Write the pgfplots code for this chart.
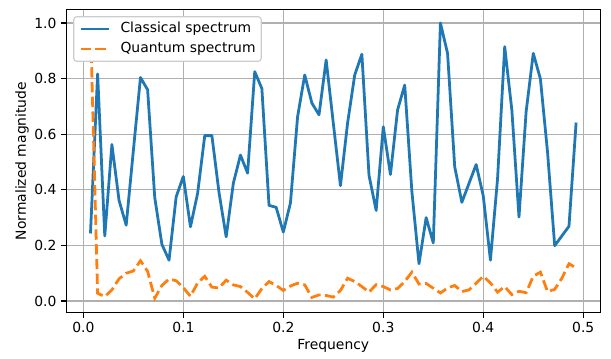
\documentclass[border=0pt]{standalone}
\usepackage{fontspec}
\setmainfont{DejaVu Sans}
\usepackage{pgfplots}
\usepackage{pgfplotstable}
\pgfplotsset{compat=1.18}
\definecolor{mplblue}{HTML}{1F77B4}
\definecolor{mplorange}{HTML}{FF7F0E}
\definecolor{mplgrid}{HTML}{B0B0B0}
\definecolor{mpllegend}{HTML}{CCCCCC}
\newcommand{\fs}{\fontsize{13.9}{16.7}\selectfont}

\pgfplotstableread{
k c q
1 0.243 1.0
2 0.817 0.028
3 0.234 0.016
4 0.563 0.040
5 0.362 0.080
6 0.273 0.100
7 0.540 0.108
8 0.804 0.145
9 0.760 0.107
10 0.372 0.010
11 0.204 0.056
12 0.147 0.079
13 0.375 0.073
14 0.448 0.048
15 0.267 0.017
16 0.387 0.065
17 0.595 0.089
18 0.595 0.050
19 0.390 0.047
20 0.231 0.075
21 0.423 0.058
22 0.525 0.052
23 0.460 0.031
24 0.825 0.008
25 0.764 0.045
26 0.344 0.070
27 0.337 0.056
28 0.248 0.038
29 0.353 0.054
30 0.663 0.064
31 0.813 0.058
32 0.712 0.013
33 0.670 0.022
34 0.867 0.020
35 0.640 0.014
36 0.415 0.038
37 0.640 0.082
38 0.813 0.070
39 0.888 0.052
40 0.452 0.032
41 0.326 0.059
42 0.627 0.052
43 0.455 0.040
44 0.687 0.045
45 0.777 0.070
46 0.395 0.104
47 0.134 0.061
48 0.300 0.063
49 0.209 0.046
50 1.000 0.029
51 0.891 0.047
52 0.483 0.056
53 0.355 0.034
54 0.423 0.040
55 0.491 0.064
56 0.378 0.089
57 0.147 0.065
58 0.440 0.032
59 0.915 0.052
60 0.687 0.023
61 0.302 0.035
62 0.681 0.030
63 0.891 0.089
64 0.799 0.104
65 0.535 0.034
66 0.199 0.042
67 0.234 0.082
68 0.269 0.134
69 0.642 0.119
}\spec

\begin{document}
\fs
\begin{tikzpicture}
\begin{axis}[
  name=ax,
  set layers=standard,
  scale only axis,
  width=534.2pt, height=303.7pt,
  xmin=-0.01714, xmax=0.51714,
  ymin=-0.0427, ymax=1.0497,
  xtick={0,0.1,0.2,0.3,0.4,0.5},
  ytick={0,0.2,0.4,0.6,0.8,1.0},
  xtick pos=bottom, ytick pos=left,
  tick align=outside,
  major tick length=4.86pt,
  every tick/.style={black, line width=1.1pt},
  grid=major,
  grid style={mplgrid, line width=1.1pt},
  axis line style={black, line width=1.1pt},
  /pgf/number format/.cd, fixed, fixed zerofill, precision=1, assume math mode=true,
  /pgfplots/.cd,
  ticklabel style={font=\fs},
  label style={font=\fs},
  xlabel={Frequency},
  ylabel={Normalized magnitude},
  xlabel style={at={(axis description cs:0.5,-0.1087)}, anchor=center},
  ylabel style={at={(axis description cs:-0.0826,0.5)}, anchor=center},
  legend cell align=left,
  legend image code/.code={\draw[#1] (0pt,0pt) -- (27.8pt,0pt);},
  legend style={
    at={(axis description cs:0,1)}, anchor=north west,
    xshift=7pt, yshift=-7pt,
    draw=mpllegend, line width=1.1pt, rounded corners=2.8pt,
    fill=white, fill opacity=1, text opacity=1,
    font=\fs,
    inner xsep=5.6pt, inner ysep=5.5pt,
    row sep=6.5pt,
    nodes={inner sep=0pt, text height=10.2pt, text depth=3.3pt},
    /tikz/every odd column/.append style={column sep=10.6pt},
  },
]
\addplot[mplblue, line width=2.78pt, line join=round] table[x expr=\thisrow{k}/140, y=c] {\spec};
\addlegendentry{Classical spectrum}
\addplot[mplorange, line width=2.78pt, dash pattern=on 10.3pt off 4.45pt] table[x expr=\thisrow{k}/140, y=q] {\spec};
\addlegendentry{Quantum spectrum}
\end{axis}
\pgfresetboundingbox
\path[use as bounding box] ([xshift=-66.2pt,yshift=-46.1pt]ax.south west) rectangle ([xshift=10.6pt,yshift=9.2pt]ax.north east);
\end{tikzpicture}
\end{document}
